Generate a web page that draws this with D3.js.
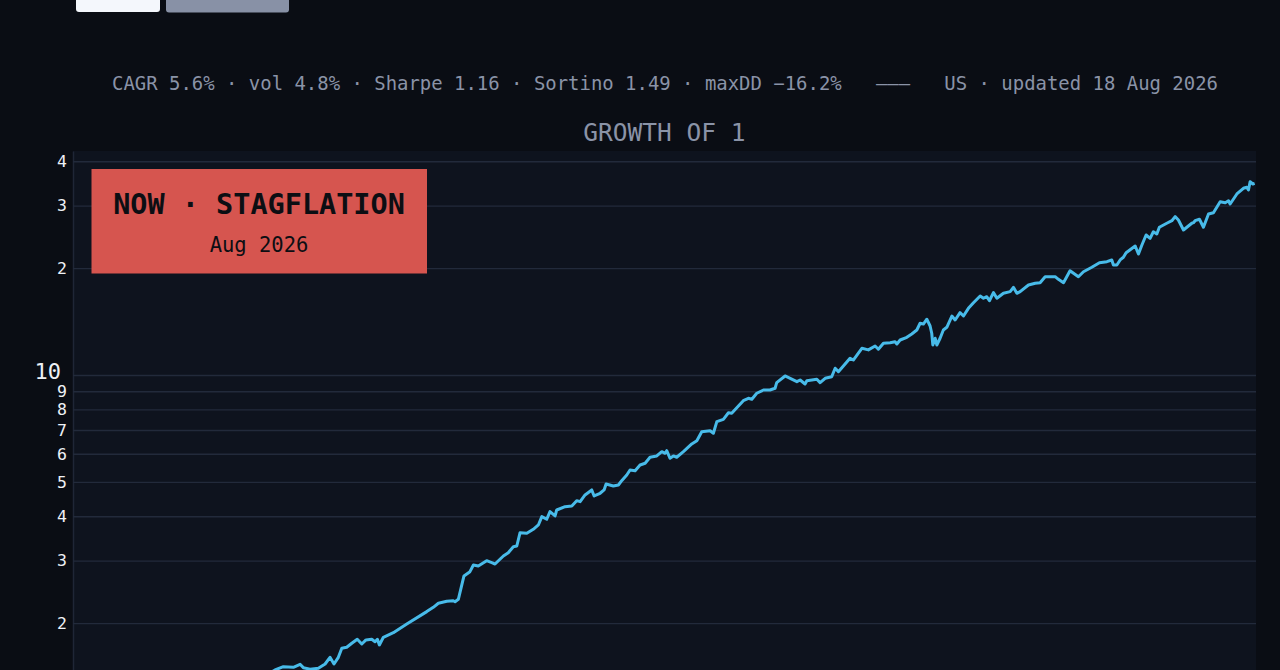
<!DOCTYPE html>
<html>
  <head>
    <meta charset="utf-8" />
    <style>
      html, body { margin: 0; background: #0a0d14; overflow: hidden; }
      svg { display: block; }
    </style>
  </head>
  <body>

<svg id="chart"></svg>

<script src="https://d3js.org/d3.v7.min.js"></script>
<script>
// growth of 1, decimal years
const YEARS = [
  1961.50, 1964.64, 1967.95, 1970.70, 1972.08, 1972.63, 1973.09, 1973.64, 1974.01, 1974.19,
  1974.56, 1975.02, 1975.39, 1975.66, 1975.88, 1976.12, 1976.31, 1976.58, 1976.86, 1977.16,
  1977.41, 1977.64, 1977.96, 1978.14, 1978.27, 1978.38, 1978.60, 1979.15, 1979.89, 1980.99,
  1981.35, 1981.63, 1982.09, 1982.45, 1982.55, 1982.73, 1983.04, 1983.37, 1983.56, 1983.83,
  1984.29, 1984.57, 1984.75, 1985.21, 1985.48, 1985.76, 1985.95, 1986.13, 1986.50, 1986.86,
  1987.14, 1987.33, 1987.60, 1987.78, 1988.06, 1988.15, 1988.61, 1988.98, 1989.25, 1989.44,
  1989.71, 1990.08, 1990.21, 1990.54, 1990.76, 1990.87, 1991.27, 1991.55, 1991.73, 1992.01,
  1992.19, 1992.47, 1992.74, 1993.02, 1993.29, 1993.66, 1993.94, 1994.12, 1994.21, 1994.39,
  1994.58, 1994.76, 1995.13, 1995.59, 1995.87, 1996.14, 1996.60, 1996.78, 1996.97, 1997.33,
  1997.61, 1997.79, 1998.16, 1998.43, 1998.71, 1998.90, 1999.17, 1999.54, 1999.90, 2000.18,
  2000.27, 2000.73, 2001.01, 2001.38, 2001.56, 2001.83, 2001.93, 2002.48, 2002.66, 2002.94,
  2003.30, 2003.49, 2003.67, 2004.31, 2004.49, 2004.96, 2005.32, 2005.69, 2005.87, 2006.15,
  2006.52, 2006.79, 2006.89, 2007.07, 2007.44, 2007.71, 2007.99, 2008.17, 2008.35, 2008.54,
  2008.72, 2008.81, 2008.87, 2009.00, 2009.09, 2009.27, 2009.45, 2009.64, 2009.92, 2010.10,
  2010.37, 2010.56, 2010.83, 2011.11, 2011.48, 2011.66, 2011.84, 2011.99, 2012.21, 2012.40,
  2012.76, 2013.13, 2013.31, 2013.50, 2013.68, 2014.14, 2014.51, 2014.78, 2015.06, 2015.61,
  2015.79, 2016.07, 2016.43, 2016.89, 2017.17, 2017.63, 2018.05, 2018.46, 2018.73, 2018.82,
  2019.01, 2019.19, 2019.37, 2019.52, 2020.02, 2020.20, 2020.39, 2020.62, 2020.84, 2021.02,
  2021.21, 2021.35, 2021.76, 2022.04, 2022.22, 2022.40, 2022.68, 2022.95, 2023.14, 2023.23,
  2023.32, 2023.56, 2023.78, 2024.06, 2024.33, 2024.70, 2024.98, 2025.16, 2025.25, 2025.62,
  2025.98, 2026.17, 2026.26, 2026.35, 2026.50, 2026.60
]
const GROWTH = [
  1.000, 1.124, 1.215, 1.313, 1.419, 1.476, 1.508, 1.502, 1.531, 1.498,
  1.483, 1.492, 1.534, 1.602, 1.534, 1.602, 1.699, 1.710, 1.755, 1.801,
  1.747, 1.793, 1.801, 1.773, 1.801, 1.736, 1.824, 1.880, 1.989, 2.155,
  2.216, 2.275, 2.304, 2.313, 2.298, 2.334, 2.716, 2.792, 2.916, 2.897,
  2.998, 2.960, 2.935, 3.091, 3.158, 3.284, 3.298, 3.595, 3.581, 3.676,
  3.780, 3.990, 3.923, 4.121, 4.008, 4.166, 4.256, 4.276, 4.426, 4.397,
  4.592, 4.744, 4.562, 4.643, 4.744, 4.932, 4.868, 4.900, 5.038, 5.228,
  5.401, 5.376, 5.579, 5.641, 5.865, 5.915, 6.081, 6.018, 6.120, 5.827,
  5.915, 5.865, 6.081, 6.394, 6.531, 6.923, 6.967, 6.852, 7.387, 7.502,
  7.830, 7.800, 8.178, 8.464, 8.598, 8.543, 8.882, 9.074, 9.074, 9.175,
  9.515, 9.936, 9.788, 9.576, 9.683, 9.434, 9.638, 9.726, 9.515, 9.788,
  9.890, 10.45, 10.22, 11.15, 11.02, 11.89, 11.77, 12.07, 11.82, 12.29,
  12.33, 12.41, 12.23, 12.55, 12.77, 13.05, 13.39, 13.99, 13.92, 14.36,
  13.74, 13.11, 12.15, 12.69, 12.15, 12.69, 13.39, 13.63, 14.66, 14.29,
  14.98, 14.66, 15.41, 15.98, 16.70, 16.45, 16.62, 16.19, 17.06, 16.45,
  16.99, 17.17, 17.66, 16.99, 17.17, 17.93, 18.13, 18.20, 18.92, 18.92,
  18.60, 18.20, 19.67, 18.92, 19.54, 20.11, 20.72, 20.86, 21.09, 20.41,
  20.41, 21.09, 21.46, 22.11, 23.09, 21.92, 23.24, 24.80, 24.27, 25.33,
  24.96, 26.07, 26.76, 27.21, 27.93, 27.34, 25.62, 26.29, 26.76, 26.86,
  27.21, 27.46, 26.07, 28.42, 28.66, 30.78, 30.58, 30.97, 30.32, 32.36,
  33.57, 33.79, 33.20, 35.04, 34.52, 34.67
]
// y axis ticks (log scale, plotly-like digit labels)
const TICK_VALUES = [2, 3, 4, 5, 6, 7, 8, 9, 10, 20, 30, 40]
const TICK_LABELS = ['2', '3', '4', '5', '6', '7', '8', '9', '10', '2', '3', '4']
const Y_DOMAIN = [0.823, 42.76]
const X_START = 1961.5
const X_END = 2026.62

const STATS = 'CAGR 5.6% · vol 4.8% · Sharpe 1.16 · Sortino 1.49 · maxDD −16.2%   ———   US · updated 18 Aug 2026'
const TITLE = 'GROWTH OF 1'
const REGIME = 'NOW · STAGFLATION'
const REGIME_DATE = 'Aug 2026'

const WIDTH = 1280
const HEIGHT = 670
const PLOT_LEFT = 73
const PLOT_RIGHT = 1256
const PLOT_TOP = 151
const PLOT_BOTTOM = 760 // runs below the window
const FONT = '"DejaVu Sans Mono", monospace'

// decimal year -> Date
function toDate(y) {
  const yr = Math.floor(y)
  const a = Date.UTC(yr, 0, 1)
  const b = Date.UTC(yr + 1, 0, 1)
  return new Date(a + (y - yr) * (b - a))
}

const data = YEARS.map((y, i) => ({ date: toDate(y), value: GROWTH[i] }))

const svg = d3.select('#chart')
  .attr('width', WIDTH)
  .attr('height', HEIGHT)

// page background
svg.append('rect')
  .attr('width', WIDTH)
  .attr('height', HEIGHT)
  .attr('fill', '#0a0d14')

// the two buttons cut off at the top
svg.append('rect')
  .attr('x', 76).attr('y', -20).attr('width', 84).attr('height', 32)
  .attr('rx', 3).attr('fill', '#f4f7fc')
svg.append('rect')
  .attr('x', 166).attr('y', -20).attr('width', 123).attr('height', 32.5)
  .attr('rx', 3).attr('fill', '#8891a6')

// stats line
svg.append('text')
  .attr('x', 665)
  .attr('y', 89.5)
  .attr('text-anchor', 'middle')
  .attr('font-family', FONT)
  .attr('font-size', 18.95)
  .attr('fill', '#8a93a7')
  .attr('xml:space', 'preserve')
  .style('white-space', 'pre')
  .text(STATS)

// title
svg.append('text')
  .attr('x', 664.5)
  .attr('y', 141)
  .attr('text-anchor', 'middle')
  .attr('font-family', FONT)
  .attr('font-size', 24.5)
  .attr('fill', '#8a93a7')
  .text(TITLE)

const xScale = d3.scaleTime()
  .domain([toDate(X_START), toDate(X_END)])
  .range([PLOT_LEFT, PLOT_RIGHT - 1])

const yScale = d3.scaleLog()
  .domain(Y_DOMAIN)
  .range([PLOT_BOTTOM, PLOT_TOP])

// plot background
svg.append('rect')
  .attr('x', PLOT_LEFT)
  .attr('y', PLOT_TOP)
  .attr('width', PLOT_RIGHT - PLOT_LEFT)
  .attr('height', PLOT_BOTTOM - PLOT_TOP)
  .attr('fill', '#0e131e')

// y axis + grid
const axisY = d3.axisLeft(yScale)
  .tickValues(TICK_VALUES)
  .tickFormat((d, i) => TICK_LABELS[i])
  .tickSizeInner(-(PLOT_RIGHT - PLOT_LEFT))
  .tickSizeOuter(0)
  .tickPadding(6)

const axisG = svg.append('g')
  .attr('transform', `translate(${PLOT_LEFT},0)`)
  .call(axisY)

axisG.select('.domain')
  .attr('stroke', '#1f2636')
  .attr('stroke-width', 1.5)
axisG.selectAll('.tick line')
  .attr('stroke', '#222a3b')
  .attr('stroke-width', 1.4)
axisG.selectAll('.tick text')
  .attr('font-family', FONT)
  .attr('font-size', 16.5)
  .attr('fill', '#eef1f6')
axisG.selectAll('.tick text')
  .filter(d => d === 10)
  .attr('font-size', 22)
  .attr('dx', -6)
  .attr('dy', '0.18em')

// clip for the line
svg.append('clipPath')
  .attr('id', 'plot-clip')
  .append('rect')
  .attr('x', PLOT_LEFT)
  .attr('y', PLOT_TOP)
  .attr('width', PLOT_RIGHT - PLOT_LEFT)
  .attr('height', PLOT_BOTTOM - PLOT_TOP)

const line = d3.line()
  .x(d => xScale(d.date))
  .y(d => yScale(d.value))

svg.append('path')
  .datum(data)
  .attr('clip-path', 'url(#plot-clip)')
  .attr('d', line)
  .attr('fill', 'none')
  .attr('stroke', '#48bbe9')
  .attr('stroke-width', 3)
  .attr('stroke-linejoin', 'round')

// regime box
const box = svg.append('g')
box.append('rect')
  .attr('x', 91.5)
  .attr('y', 169)
  .attr('width', 335.5)
  .attr('height', 104.5)
  .attr('fill', '#d6554f')
box.append('text')
  .attr('x', 259)
  .attr('y', 214)
  .attr('text-anchor', 'middle')
  .attr('font-family', FONT)
  .attr('font-weight', 'bold')
  .attr('font-size', 28.5)
  .attr('fill', '#0c0e13')
  .text(REGIME)
box.append('text')
  .attr('x', 259)
  .attr('y', 251.5)
  .attr('text-anchor', 'middle')
  .attr('font-family', FONT)
  .attr('font-size', 20.5)
  .attr('fill', '#0c0e13')
  .text(REGIME_DATE)

</script>
  </body>
</html>
